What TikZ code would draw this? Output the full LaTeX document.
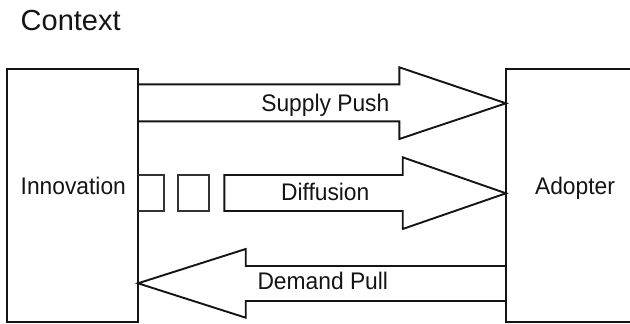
\documentclass[tikz,border=0pt]{standalone}
\usepackage{fontspec}
\setmainfont{Liberation Sans}[FakeStretch=0.95]
\newfontfamily\titlefont{Liberation Sans}
\usetikzlibrary{calc}
\definecolor{ink}{HTML}{141414}
\definecolor{softink}{HTML}{333333}
\tikzset{
  outline/.style={draw=ink, line width=1.9pt, line join=miter},
  softline/.style={draw=softink, line width=1.8pt, line join=miter},
  block/.style={outline, fill=white, inner sep=0pt, outer sep=0pt},
  lbl/.style={inner sep=0pt, anchor=base, text=ink,
    font=\fontsize{24}{28}\selectfont},
}
\begin{document}
\begin{tikzpicture}[x=1pt, y=-1pt]
  \useasboundingbox (0,0) rectangle (630,324);
  \clip (0,0) rectangle (630,324);

  % heading
  \node[inner sep=0pt, anchor=base west, text=ink,
        font=\titlefont\fontsize{29}{34}\selectfont] (ctx) at (20.5,30.7) {Context};

  % the two actors
  \node[block, minimum width=131pt, minimum height=253pt] (inno) at (72.5,195.5) {};
  \node[block, minimum width=140pt, minimum height=253pt, anchor=north west] (adopt) at (506,69) {};

  \node[lbl] (innotxt)  at (73.3,194.3) {Innovation};
  \node[lbl] (adopttxt) at (575,194.3) {Adopter};

  % supply push: fat arrow from innovation to adopter
  \draw[outline] (inno.east |- 0,84.3) -- (399.3,84.3) -- (399.3,67.3)
        -- (adopt.west |- 0,103.3) -- (399.3,139) -- (399.3,121.3)
        -- (inno.east |- 0,121.3);
  \node[lbl] (push) at (325.3,111) {Supply Push};

  % diffusion: broken fat arrow
  \draw[softline] (inno.east |- 0,175) -- (164,175) -- (164,211) -- (inno.east |- 0,211);
  \draw[softline] (177.7,175) rectangle (209.3,211);
  \draw[outline] (224.3,175) -- (402.7,175) -- (402.7,157.3)
        -- (adopt.west |- 0,193.3) -- (402.7,229) -- (402.7,211)
        -- (224.3,211) -- cycle;
  \node[lbl] (diff) at (325.2,200.7) {Diffusion};

  % demand pull: fat arrow from adopter back to innovation
  \draw[outline] (adopt.west |- 0,266) -- (245.7,266) -- (245.7,249)
        -- (inno.east |- 0,283.3) -- (245.7,317.7) -- (245.7,301)
        -- (adopt.west |- 0,301);
  \node[lbl] (pull) at (322.8,289.3) {Demand Pull};
\end{tikzpicture}
\end{document}
